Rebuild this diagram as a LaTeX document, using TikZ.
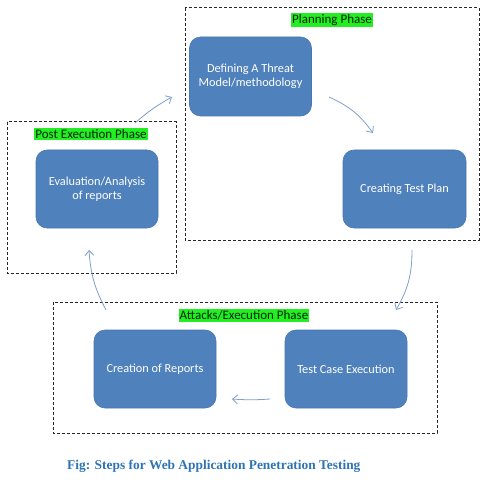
\documentclass[tikz,border=0pt]{standalone}
\usepackage{fontspec}
\setmainfont{Carlito}
\newfontfamily\capfont{Liberation Serif}
\usetikzlibrary{arrows.meta}
\definecolor{nodeblue}{HTML}{4F81BD}
\definecolor{nodeedge}{HTML}{4A78B0}
\definecolor{arrowblue}{HTML}{7F9FCB}
\definecolor{hlgreen}{HTML}{22EE22}
\definecolor{capblue}{HTML}{2E74B5}
\tikzset{
  stepbox/.style={draw=nodeedge, line width=0.6pt, fill=nodeblue, rounded corners=11pt,
    text=white, align=center, font=\fontsize{12.3}{14.5}\selectfont, inner sep=0pt},
  phasebox/.style={draw=black!85, line width=1pt, dash pattern=on 3pt off 2pt},
  phaselabel/.style={fill=hlgreen, text=black!85!green, font=\fontsize{13}{15}\selectfont, inner xsep=1pt, inner ysep=1.5pt},
  flow/.style={draw=arrowblue, line width=0.8pt, -{Straight Barb[length=5pt,width=9pt]}}
}
\begin{document}
\begin{tikzpicture}[x=1pt,y=-1pt]
\useasboundingbox (0,0) rectangle (485,484);
% phase boxes
\draw[phasebox] (185,8) rectangle (479,240);
\draw[phasebox] (7,122) rectangle (176,273);
\draw[phasebox] (53,302) rectangle (437,433);
% labels
\node[phaselabel] (pl) at (332,20) {Planning Phase};
\node[phaselabel] (pel) at (91,134) {Post Execution Phase};
\node[phaselabel] (ael) at (244,315.5) {Attacks/Execution Phase};
% steps
\node[stepbox, minimum width=122pt, minimum height=79pt] (def) at (250.5,76.5) {Defining A Threat\\Model/methodology};
\node[stepbox, minimum width=123pt, minimum height=78pt] (ctp) at (404.5,189) {Creating Test Plan};
\node[stepbox, minimum width=122pt, minimum height=78pt] (eva) at (97,189) {Evaluation/Analysis\\of reports};
\node[stepbox, minimum width=122pt, minimum height=78pt] (cor) at (155,369) {Creation of Reports};
\node[stepbox, minimum width=122pt, minimum height=78pt] (tce) at (346,369) {Test Case Execution};
% connector endpoints
\coordinate (d1) at (329,97);  \coordinate (c1) at (373,133);
\coordinate (c2) at (412,250); \coordinate (t2) at (396,310);
\coordinate (t3) at (270,399); \coordinate (r3) at (232,399);
\coordinate (r4) at (106,310); \coordinate (e4) at (89,250);
\coordinate (e5) at (135,123); \coordinate (d5) at (172,97);
\draw[flow] (d1) to[bend left=15] (c1);
\draw[flow] (c2) to[bend left=15] (t2);
\draw[flow] (t3) to[bend left=4] (r3);
\draw[flow] (r4) to[bend left=12] (e4);
\draw[flow] (e5) to[bend left=6] (d5);
% caption
\node[text=capblue, font=\capfont\bfseries\fontsize{13.4}{16}\selectfont, anchor=west, inner sep=0pt] (cap) at (67,466.5) {Fig: Steps for Web Application Penetration Testing};
\end{tikzpicture}
\end{document}
